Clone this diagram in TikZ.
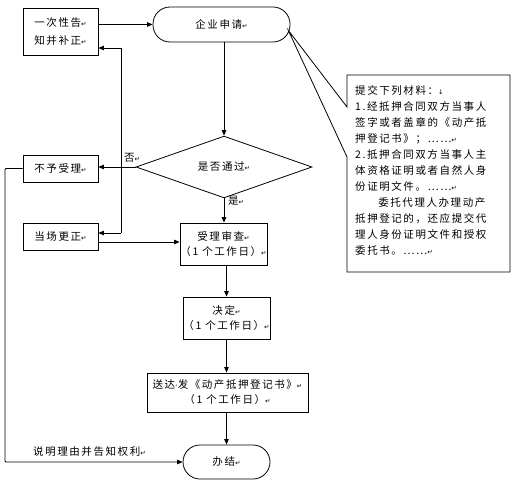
\documentclass[tikz,border=0pt]{standalone}
\usepackage{fontspec}
\newfontfamily\cjk[LetterSpace=15]{Noto Sans CJK SC}
\newfontfamily\djv{DejaVu Sans}
\usetikzlibrary{shapes.geometric,arrows.meta,calc}
\newcommand\pmk{{\djv\fontsize{6.5}{6.5}\selectfont ↵}}
\newcommand\dmk{{\djv\fontsize{6.5}{6.5}\selectfont ↓}}
\newcommand\mdot{{\djv\fontsize{8}{8}\selectfont ·}}
\begin{document}
\begin{tikzpicture}[x=1pt,y=-1pt,
  font=\cjk\fontsize{10.5}{15}\selectfont,
  box/.style={draw, line width=0.8pt, inner sep=0pt, align=center},
  rbox/.style={box, rounded corners=17pt},
  arr/.style={-{Triangle[length=5.5pt,width=4.5pt]}, line width=0.8pt},
  ln/.style={line width=0.8pt},
  lbl/.style={inner sep=0pt}]
\useasboundingbox (0,0) rectangle (518,497);

% nodes
\node[box, minimum width=75pt, minimum height=47pt, align=left] (notice) at (60.5,31.5) {一次性告\pmk\\[3pt]知并补正\pmk};
\node[rbox, minimum width=137pt, minimum height=35pt] (apply) at (221.5,24.5) {企业申请\pmk};
\node[draw, line width=0.8pt, diamond, inner sep=0pt, minimum width=176pt, minimum height=41pt] (check) at (224,167) {是否通过\pmk};
\node[box, minimum width=75pt, minimum height=27pt] (reject) at (60.5,168.5) {不予受理\pmk};
\node[box, minimum width=75pt, minimum height=27pt] (fix) at (60.5,237) {当场更正\pmk};
\node[box, minimum width=87pt, minimum height=42pt] (review) at (223.5,244) {受理审查\pmk\\（1 个工作日）\pmk};
\node[box, minimum width=87pt, minimum height=42pt] (decide) at (226.5,318) {决定\pmk\\（1 个工作日）\pmk};
\node[box, minimum width=161pt, minimum height=39pt] (deliver) at (227.5,392.5) {送达\mdot 发《动产抵押登记书》\pmk\\（1 个工作日）\pmk};
\node[rbox, minimum width=87pt, minimum height=34pt] (done) at (226.5,462) {办结\pmk};

% coordinates
\coordinate (jt) at (121,48);
\coordinate (jb) at (121,233);
\coordinate (lt) at (5,168.5);
\coordinate (lb) at (5,462);

% connectors
\draw[arr] (notice.east |- apply) -- (apply.west);
\draw[arr] (apply.south -| check.north) -- (check.north);
\draw[arr] (check.west) -- (reject.east |- check.west);
\draw[ln] (jt) -- (jb);
\draw[arr] (jt) -- (notice.east |- jt);
\draw[arr] (jb) -- (fix.east |- jb);
\draw[arr] ($(fix.east)+(0,5)$) -- (review.west |- {$(fix.east)+(0,5)$});
\draw[arr] (check.south) -- (review.north -| check.south);
\draw[arr] (review.south -| decide.north) -- (decide.north);
\draw[arr] (decide.south) -- (deliver.north -| decide.south);
\draw[arr] (deliver.south -| decide.south) -- (done.north -| decide.south);
\draw[arr, rounded corners=1pt] (reject.west) -- (lt) -- (lb) -- (done.west);

% labels
\node[lbl] (no) at (132,158) {否\pmk};
\node[lbl] (yes) at (236,201) {是\pmk};
\node[lbl, anchor=west] (why) at (33,452) {说明理由并告知权利\pmk};

% callout
\coordinate (tip) at ($(apply.east)+(-2,6)$);
\draw[line width=0.8pt] (347,107) -- (347,75) -- (510,75) -- (510,272) -- (347,272) -- (347,157) -- (tip) -- cycle;
\node[lbl, anchor=north west, align=left, font=\cjk\fontsize{10.5}{16}\selectfont] (materials) at (355,85) {%
提交下列材料：\dmk\\
1.经抵押合同双方当事人\\
签字或者盖章的《动产抵\\
押登记书》；……\pmk\\
2.抵押合同双方当事人主\\
体资格证明或者自然人身\\
份证明文件。……\pmk\\
\hspace*{2.2em}委托代理人办理动产\\
抵押登记的，还应提交代\\
理人身份证明文件和授权\\
委托书。……\pmk};
\end{tikzpicture}
\end{document}
